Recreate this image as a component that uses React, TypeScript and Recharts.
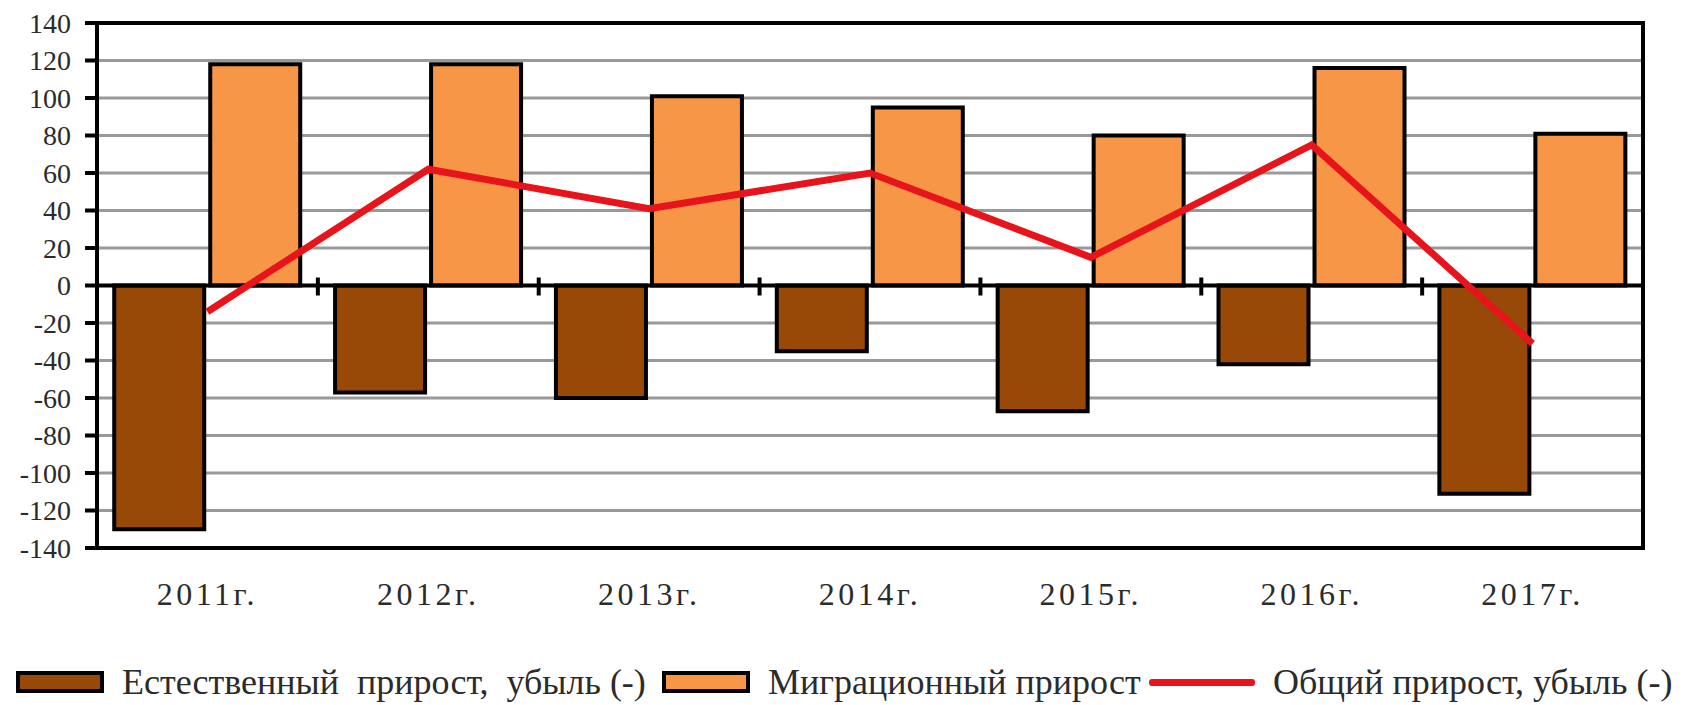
import {
  ComposedChart,
  Bar,
  Line,
  XAxis,
  YAxis,
  CartesianGrid,
  ReferenceLine,
  ReferenceArea,
  Legend,
} from "recharts";

// values
const years = ["2011г.", "2012г.", "2013г.", "2014г.", "2015г.", "2016г.", "2017г."];
const natural = [-130, -57, -60, -35, -67, -42, -111];
const migration = [118, 118, 101, 95, 80, 116, 81];
const total = [-14, 62, 41, 60, 15, 75, -31];
const yTicks = [-140, -120, -100, -80, -60, -40, -20, 0, 20, 40, 60, 80, 100, 120, 140];

const legendLabels = [
  "Естественный  прирост,  убыль (-)",
  "Миграционный прирост",
  "Общий прирост, убыль (-)",
];

const BROWN = "#984807";
const ORANGE = "#f79646";
const RED = "#e8141b";
const FONT = "'Liberation Serif', 'Times New Roman', serif";
const TEXT = "#2b2b2b";

const chartData = years.map((year, i) => ({
  year,
  natural: natural[i],
  migration: migration[i],
  total: total[i],
}));

// zero line with small marks at the category boundaries
function ZeroLine(props: any) {
  const { x1, y1, x2, y2 } = props;
  const step = (x2 - x1) / years.length;
  const marks: number[] = [];
  for (let i = 1; i < years.length; i++) marks.push(x1 + step * i);
  return (
    <g>
      <line x1={x1} y1={y1} x2={x2} y2={y2} stroke="#000" strokeWidth={4} />
      {marks.map((x, i) => (
        <line key={i} x1={x} x2={x} y1={y1 - 8} y2={y1 + 10} stroke="#000" strokeWidth={4} />
      ))}
    </g>
  );
}

function LegendContent() {
  const widths = [646, 487, 547];
  const swatches = [
    <div style={{ width: 80, height: 14, background: BROWN, border: "4px solid #000" }} />,
    <div style={{ width: 80, height: 14, background: ORANGE, border: "4px solid #000" }} />,
    <div style={{ width: 106, height: 7, background: RED, borderRadius: 3 }} />,
  ];
  return (
    <div
      style={{
        display: "flex",
        alignItems: "center",
        paddingLeft: 16,
        paddingTop: 26,
        fontFamily: FONT,
        fontSize: 36,
        color: TEXT,
        whiteSpace: "pre",
      }}
    >
      {legendLabels.map((label, i) => (
        <div key={i} style={{ display: "flex", alignItems: "center", width: widths[i] }}>
          {swatches[i]}
          <span style={{ marginLeft: 18 }}>{label}</span>
        </div>
      ))}
    </div>
  );
}

export default function App() {
  return (
    <div style={{ position: "absolute", left: 0, top: 0, background: "#fff" }}>
      <ComposedChart
        width={1696}
        height={705}
        data={chartData}
        margin={{ top: 23, right: 53, left: 0, bottom: 0 }}
        barCategoryGap="7.8%"
        barGap={6}
      >
        <CartesianGrid vertical={false} stroke="#999" strokeWidth={3} />
        <XAxis
          dataKey="year"
          interval={0}
          height={87}
          axisLine={{ stroke: "#000", strokeWidth: 4 }}
          tickLine={false}
          tickSize={0}
          tickMargin={34}
          tick={{ fontSize: 32, fill: TEXT, fontFamily: FONT, letterSpacing: 3.5 }}
        />
        <YAxis
          width={97}
          domain={[-140, 140]}
          ticks={yTicks}
          interval={0}
          axisLine={{ stroke: "#000", strokeWidth: 4 }}
          tickLine={{ stroke: "#000", strokeWidth: 4 }}
          tickSize={12}
          tickMargin={14}
          tick={{ fontSize: 28, fill: TEXT, fontFamily: FONT }}
        />
        <Bar dataKey="natural" fill={BROWN} stroke="#000" strokeWidth={4} isAnimationActive={false} />
        <Bar dataKey="migration" fill={ORANGE} stroke="#000" strokeWidth={4} isAnimationActive={false} />
        <ReferenceLine y={0} shape={ZeroLine} />
        <ReferenceArea y1={-140} y2={140} fill="none" fillOpacity={0} stroke="#000" strokeWidth={4} />
        <Line
          type="linear"
          dataKey="total"
          stroke={RED}
          strokeWidth={7}
          dot={false}
          activeDot={false}
          isAnimationActive={false}
        />
        <Legend
          verticalAlign="bottom"
          content={() => <LegendContent />}
          wrapperStyle={{ left: 0, width: 1696, height: 70 }}
        />
      </ComposedChart>
    </div>
  );
}
